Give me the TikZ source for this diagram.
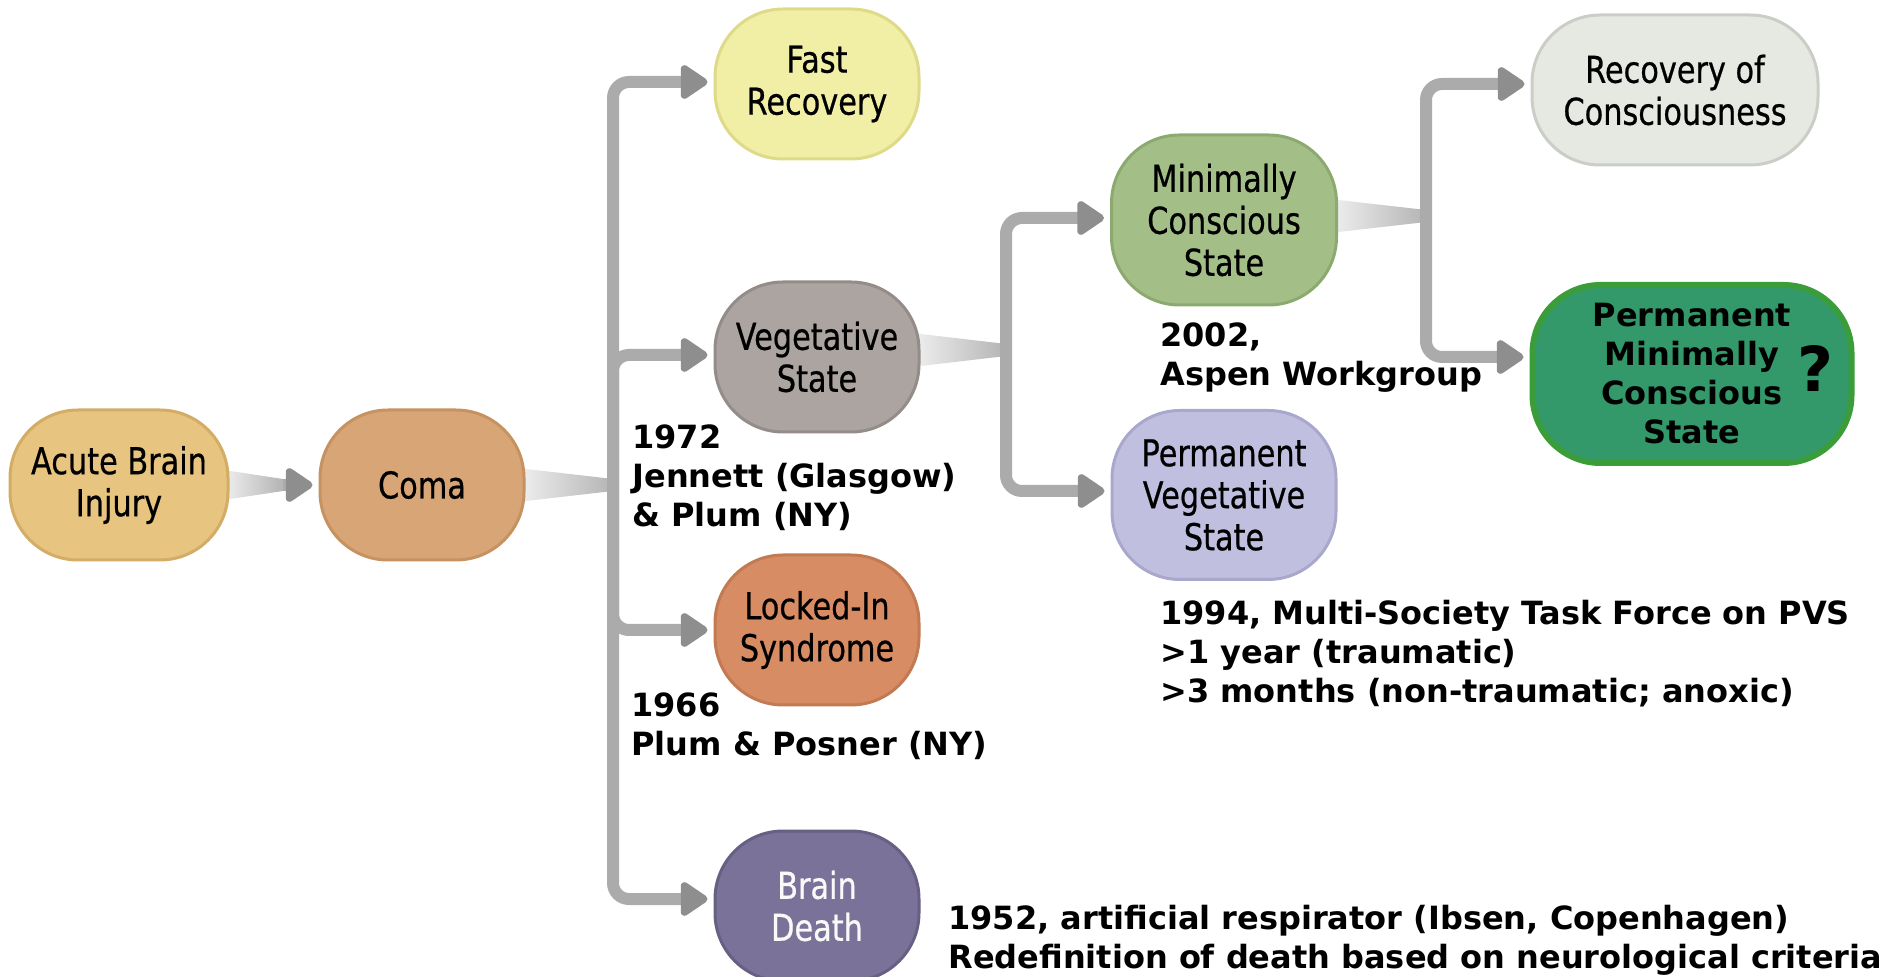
\documentclass[tikz,border=0pt]{standalone}
\usepackage{fontspec}
\setmainfont{DejaVu Sans}
\newfontfamily\nodefont[FakeStretch=0.82,FakeBold=0.6]{DejaVu Sans}
\usetikzlibrary{arrows.meta,calc}
\definecolor{abif}{HTML}{E7C47F}\definecolor{abid}{HTML}{D3AC66}
\definecolor{comaf}{HTML}{D8A676}\definecolor{comad}{HTML}{C69260}
\definecolor{fastf}{HTML}{F1EFA6}\definecolor{fastd}{HTML}{DEDA88}
\definecolor{vegf}{HTML}{ACA4A0}\definecolor{vegd}{HTML}{948C88}
\definecolor{lisf}{HTML}{D78C64}\definecolor{lisd}{HTML}{C27A52}
\definecolor{bdf}{HTML}{7A7298}\definecolor{bdd}{HTML}{676084}
\definecolor{mcsf}{HTML}{A3BF87}\definecolor{mcsd}{HTML}{8CAA70}
\definecolor{pvsf}{HTML}{C0BFE0}\definecolor{pvsd}{HTML}{A9A8CC}
\definecolor{rocf}{HTML}{E5E9E2}\definecolor{rocd}{HTML}{CACEC7}
\definecolor{pmcsf}{HTML}{33996A}\definecolor{pmcsd}{HTML}{3A9D3A}
\definecolor{linegray}{HTML}{ABABAB}
\definecolor{tipgray}{HTML}{8E8E8E}
\definecolor{wedgel}{HTML}{F0F0F0}
\definecolor{wedger}{HTML}{B4B4B4}
\pgfdeclarelayer{bg}
\pgfsetlayers{bg,main}
\begin{document}
\begin{tikzpicture}[x=0.5pt,y=-0.5pt,
 st/.style={rounded corners=34pt, line width=1.5pt, align=center, inner sep=0pt,
   minimum width=102pt, minimum height=75pt,
   font={\nodefont\fontsize{18.5pt}{21pt}\selectfont}},
 ann/.style={anchor=base west, align=left, inner sep=0pt,
   font={\fontsize{16pt}{19.5pt}\selectfont\bfseries}},
 conn/.style={draw=linegray, line width=6pt, rounded corners=8pt,
   -{Triangle[length=15pt,width=19pt,round,color=tipgray,fill=tipgray]}, shorten >=3pt},
 wedge/.style={left color=wedgel, right color=wedger, draw=none}
]
\useasboundingbox (0,0) rectangle (1879,977);

% nodes
\node[st, fill=abif, draw=abid, minimum width=109pt] (abi) at (119,485) {Acute Brain\\Injury};
\node[st, fill=comaf, draw=comad] (coma) at (422,485) {Coma};
\node[st, fill=fastf, draw=fastd] (fast) at (817,84) {Fast\\Recovery};
\node[st, fill=vegf, draw=vegd] (veg) at (817,357) {Vegetative\\State};
\node[st, fill=lisf, draw=lisd] (lis) at (817,630) {Locked-In\\Syndrome};
\node[st, fill=bdf, draw=bdd, text={white!95!gray}] (bd) at (817,906) {Brain\\Death};
\node[st, fill=mcsf, draw=mcsd, minimum width=112.5pt, minimum height=85pt] (mcs) at (1224,220) {Minimally\\Conscious\\State};
\node[st, fill=pvsf, draw=pvsd, minimum width=112pt, minimum height=84.5pt] (pvs) at (1224,495) {Permanent\\Vegetative\\State};
\node[st, fill=rocf, draw=rocd, minimum width=143pt, minimum height=75pt] (roc) at (1675,90) {Recovery of\\Consciousness};
\node[st, fill=pmcsf, draw=pmcsd, line width=3pt, minimum width=159.5pt, minimum height=89pt,
  font={\fontsize{16pt}{19.5pt}\selectfont\bfseries}] (pmcs) at (1692,374) {Permanent\\Minimally\\Conscious\\State};
\node[inner sep=0pt, font={\fontsize{31pt}{32pt}\selectfont\bfseries}] (q) at (1815,368) {?};

% junctions
\coordinate (ac) at (283,485);
\coordinate (j1) at (613,485);
\coordinate (j2) at (1006,350);
\coordinate (j3) at (1426,216);

\begin{pgfonlayer}{bg}
\shade[wedge] ($(abi.east)+(-6,-15)$) -- ($(ac)+(0,-6)$) -- ($(ac)+(0,6)$) -- ($(abi.east)+(-6,15)$) -- cycle;
\draw[conn] (ac) -- (coma.west);
\shade[wedge] ($(coma.east)+(-8,-17)$) -- ($(j1)+(0,-6)$) -- ($(j1)+(0,6)$) -- ($(coma.east)+(-8,17)$) -- cycle;
\draw[conn] (j1) |- ($(fast.west)+(0,-2)$);
\draw[conn] (j1) |- ($(veg.west)+(0,-2)$);
\draw[conn] (j1) |- (lis.west);
\draw[conn] (j1) |- ($(bd.west)+(0,-7)$);
\shade[wedge] ($(veg.east)+(-8,-24)$) -- ($(j2)+(0,-6)$) -- ($(j2)+(0,6)$) -- ($(veg.east)+(-8,10)$) -- cycle;
\draw[conn] (j2) |- ($(mcs.west)+(0,-2)$);
\draw[conn] (j2) |- ($(pvs.west)+(0,-4)$);
\shade[wedge] ($(mcs.east)+(-8,-21)$) -- ($(j3)+(0,-6)$) -- ($(j3)+(0,6)$) -- ($(mcs.east)+(-8,13)$) -- cycle;
\draw[conn] (j3) |- ($(roc.west)+(0,-6)$);
\draw[conn] (j3) |- ($(pmcs.west)+(0,-17)$);
\end{pgfonlayer}

% annotations (anchored at the baseline of the last line)
\node[ann] (a1972) at (632,527) {1972\\Jennett (Glasgow)\\\& Plum (NY)};
\node[ann] (a2002) at (1160,386) {2002,\\Aspen Workgroup};
\node[ann] (a1966) at (631,755) {1966\\Plum \& Posner (NY)};
\node[ann] (a1994) at (1160,703) {1994, Multi-Society Task Force on PVS\\>1 year (traumatic)\\>3 months (non-traumatic; anoxic)};
\node[ann] (a1952) at (948,968) {1952, artificial respirator (Ibsen, Copenhagen)\\Redefinition of death based on neurological criteria};
\end{tikzpicture}
\end{document}
